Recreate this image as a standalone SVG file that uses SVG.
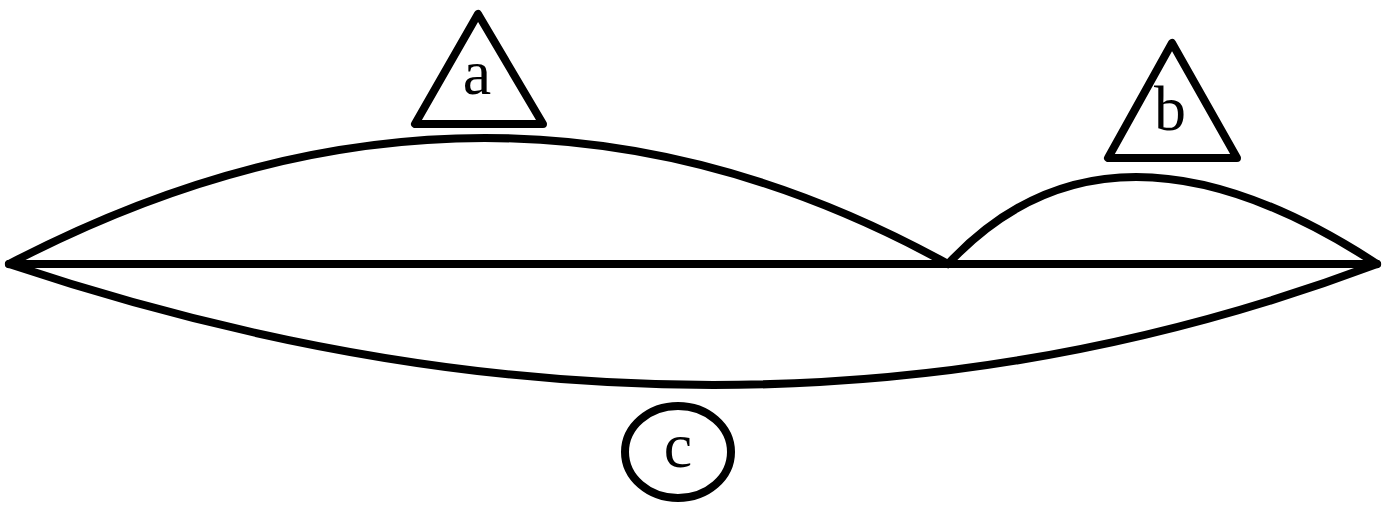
<svg xmlns="http://www.w3.org/2000/svg" width="1390" height="506" viewBox="0 0 1390 506">
<style>
.ln{fill:none;stroke:#000;stroke-width:8;stroke-linejoin:round;stroke-linecap:round}
.nd{fill:#fff;stroke:#000;stroke-width:8;stroke-linejoin:round}
.lb{font-family:"Liberation Serif","Times New Roman",serif;font-size:64px;fill:#000;text-anchor:middle}
</style>
<rect width="1390" height="506" fill="#fff"/>
<g id="connectors">
<path class="ln" d="M9,264 L1377,264"/>
<path class="ln" d="M9,264 Q491,12 948,264"/>
<path class="ln" d="M948,264 Q1110,90 1377,264"/>
<path class="ln" d="M9,264 Q733,506 1377,264"/>
</g>
<g id="node-a">
<polygon class="nd" points="478,14 415,124 543,124"/>
<text class="lb" x="477" y="94">a</text>
</g>
<g id="node-b">
<polygon class="nd" points="1172,43 1108,158 1237,158"/>
<text class="lb" x="1170" y="130">b</text>
</g>
<g id="node-c">
<ellipse class="nd" cx="678" cy="452" rx="53" ry="46"/>
<text class="lb" x="678" y="467">c</text>
</g>
</svg>
